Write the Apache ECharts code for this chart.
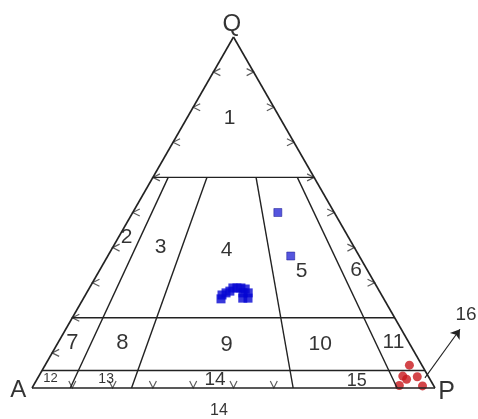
<!DOCTYPE html>
<html>
<head>
<meta charset="utf-8">
<script src="https://cdn.jsdelivr.net/npm/echarts@6/dist/echarts.min.js"></script>
<style>
  html, body { margin: 0; padding: 0; background: #fff; }
  #main { width: 478px; height: 419px; }
</style>
</head>
<body>
<div id="main"></div>
<script>
var H = Math.sqrt(3) / 2;

// field boundaries, endpoints as [Q %, P/(A+P) %]
var boundaries = [
  [[0, 0], [0, 100]],        // A - P
  [[0, 0], [100, 0]],        // A - Q
  [[0, 100], [100, 0]],      // P - Q
  [[60, 0], [60, 100]],
  [[20, 0], [20, 100]],
  [[5, 0], [5, 100]],
  [[60, 9.5], [0, 9.5]],
  [[60, 33.5], [0, 24.7]],
  [[60, 64], [0, 64.8]],
  [[60, 89.6], [0, 90.6]]
];

// edge tick marks
var leftTicksQ = [90, 80, 70, 60, 50, 40, 30, 20, 10];
var rightTicksQ = [90, 80, 70, 60, 50, 40, 30];
var baseTicksP = [10, 20, 30, 40, 50, 60];

// samples [Q, A, P] %
var blueSingles = [[50.0, 14.0, 36.0], [37.6, 17.0, 45.4]];
var blueCluster = [
  [25.4, 40.4, 34.2], [26.5, 39.6, 33.9], [27.1, 38.3, 34.6], [27.6, 37.1, 35.3],
  [28.5, 35.9, 35.6], [28.5, 34.9, 36.6], [28.5, 33.9, 37.6], [28.2, 33.0, 38.8],
  [27.1, 32.9, 40.1], [25.6, 33.6, 40.8], [25.6, 34.8, 39.5], [27.1, 34.1, 38.8]
];
var redSamples = [
  [6.5, 3.1, 90.4], [3.4, 6.3, 90.3], [2.5, 5.8, 91.7],
  [3.2, 2.8, 94.0], [0.7, 8.5, 90.8], [0.6, 2.8, 96.6]
];

// text labels
var fieldNames = ['1', '2', '3', '4', '5', '6', '7', '8', '9', '10', '11', '12', '13', '14', '15'];
var fieldPos = [
  [0.490, 0.665], [0.235, 0.372], [0.319, 0.347], [0.483, 0.339], [0.669, 0.289],
  [0.804, 0.291], [0.100, 0.112], [0.224, 0.110], [0.483, 0.106], [0.715, 0.109],
  [0.897, 0.112], [0.046, 0.024], [0.184, 0.022], [0.454, 0.020], [0.806, 0.018]
];
var fieldSize = [21, 21, 21, 21, 21, 21, 22, 22, 22, 21, 21, 13, 14, 19, 18];
var cornerNames = ['Q', 'A', 'P', '16', '14'];
var cornerPos = [[0.496, 0.898], [-0.034, -0.007], [1.029, -0.011], [1.077, 0.180], [0.464, -0.055]];
var cornerSize = [24, 24, 25, 19, 16];

var arrowFrom = [0.975, 0.025];
var arrowTo = [1.062, 0.145];

function tern(q, r) {
  q = q / 100; r = r / 100;
  return [(1 - q) * r + q / 2, q * H];
}
function qap(s) {
  return [s[2] / 100 + s[0] / 200, s[0] / 100 * H];
}

var lineColor = '#222222';
var series = [];

boundaries.forEach(function (b, i) {
  series.push({
    type: 'line',
    data: [tern(b[0][0], b[0][1]), tern(b[1][0], b[1][1])],
    symbol: 'none',
    silent: true,
    clip: false,
    lineStyle: { color: lineColor, width: i < 3 ? 1.6 : 1.4 }
  });
});

function tickSeries(data, path, offset) {
  return {
    type: 'scatter',
    data: data,
    symbol: path,
    symbolSize: 7,
    symbolOffset: offset,
    silent: true,
    clip: false,
    itemStyle: { color: 'none', borderColor: '#333', borderWidth: 1.2 }
  };
}
series.push(tickSeries(leftTicksQ.map(function (q) { return tern(q, 0); }),
  'path://M8,0 L0,4 L8,8', [3.5, 0]));
series.push(tickSeries(rightTicksQ.map(function (q) { return tern(q, 100); }),
  'path://M0,0 L8,4 L0,8', [-3.5, 0]));
series.push(tickSeries(baseTicksP.map(function (p) { return tern(0, p); }),
  'path://M0,0 L4,8 L8,0', [0, -3.5]));

series.push({
  type: 'lines',
  coordinateSystem: 'cartesian2d',
  data: [{ coords: [arrowFrom, arrowTo] }],
  symbol: ['none', 'arrow'],
  symbolSize: 9,
  silent: true,
  clip: false,
  lineStyle: { color: lineColor, width: 1.1, opacity: 1 }
});

series.push({
  type: 'scatter',
  data: blueSingles.map(qap),
  symbol: 'rect',
  symbolSize: 8,
  clip: false,
  itemStyle: { color: '#2a2ad6', borderColor: '#10108c', borderWidth: 0.6 }
});
series.push({
  type: 'scatter',
  data: blueCluster.map(qap),
  symbol: 'rect',
  symbolSize: 9,
  clip: false,
  itemStyle: { color: '#0505d2' }
});
series.push({
  type: 'scatter',
  data: redSamples.map(qap),
  symbol: 'circle',
  symbolSize: 9,
  clip: false,
  itemStyle: { color: '#c8161c' }
});

function labelSeries(names, pos, sizes) {
  return {
    type: 'scatter',
    symbolSize: 0,
    silent: true,
    clip: false,
    data: names.map(function (n, i) {
      return {
        name: n,
        value: pos[i],
        label: { fontSize: sizes[i] }
      };
    }),
    label: {
      show: true,
      position: 'inside',
      formatter: '{b}',
      color: '#000',
      fontFamily: 'Liberation Sans, Arial, sans-serif'
    }
  };
}
series.push(labelSeries(fieldNames, fieldPos, fieldSize));
series.push(labelSeries(cornerNames, cornerPos, cornerSize));

var chart = echarts.init(document.getElementById('main'));
chart.setOption({
  backgroundColor: '#fff',
  animation: false,
  grid: { left: 32, top: 37, width: 403, height: 351 },
  xAxis: { type: 'value', min: 0, max: 1, show: false },
  yAxis: { type: 'value', min: 0, max: H, show: false },
  series: series
});
</script>
</body>
</html>
